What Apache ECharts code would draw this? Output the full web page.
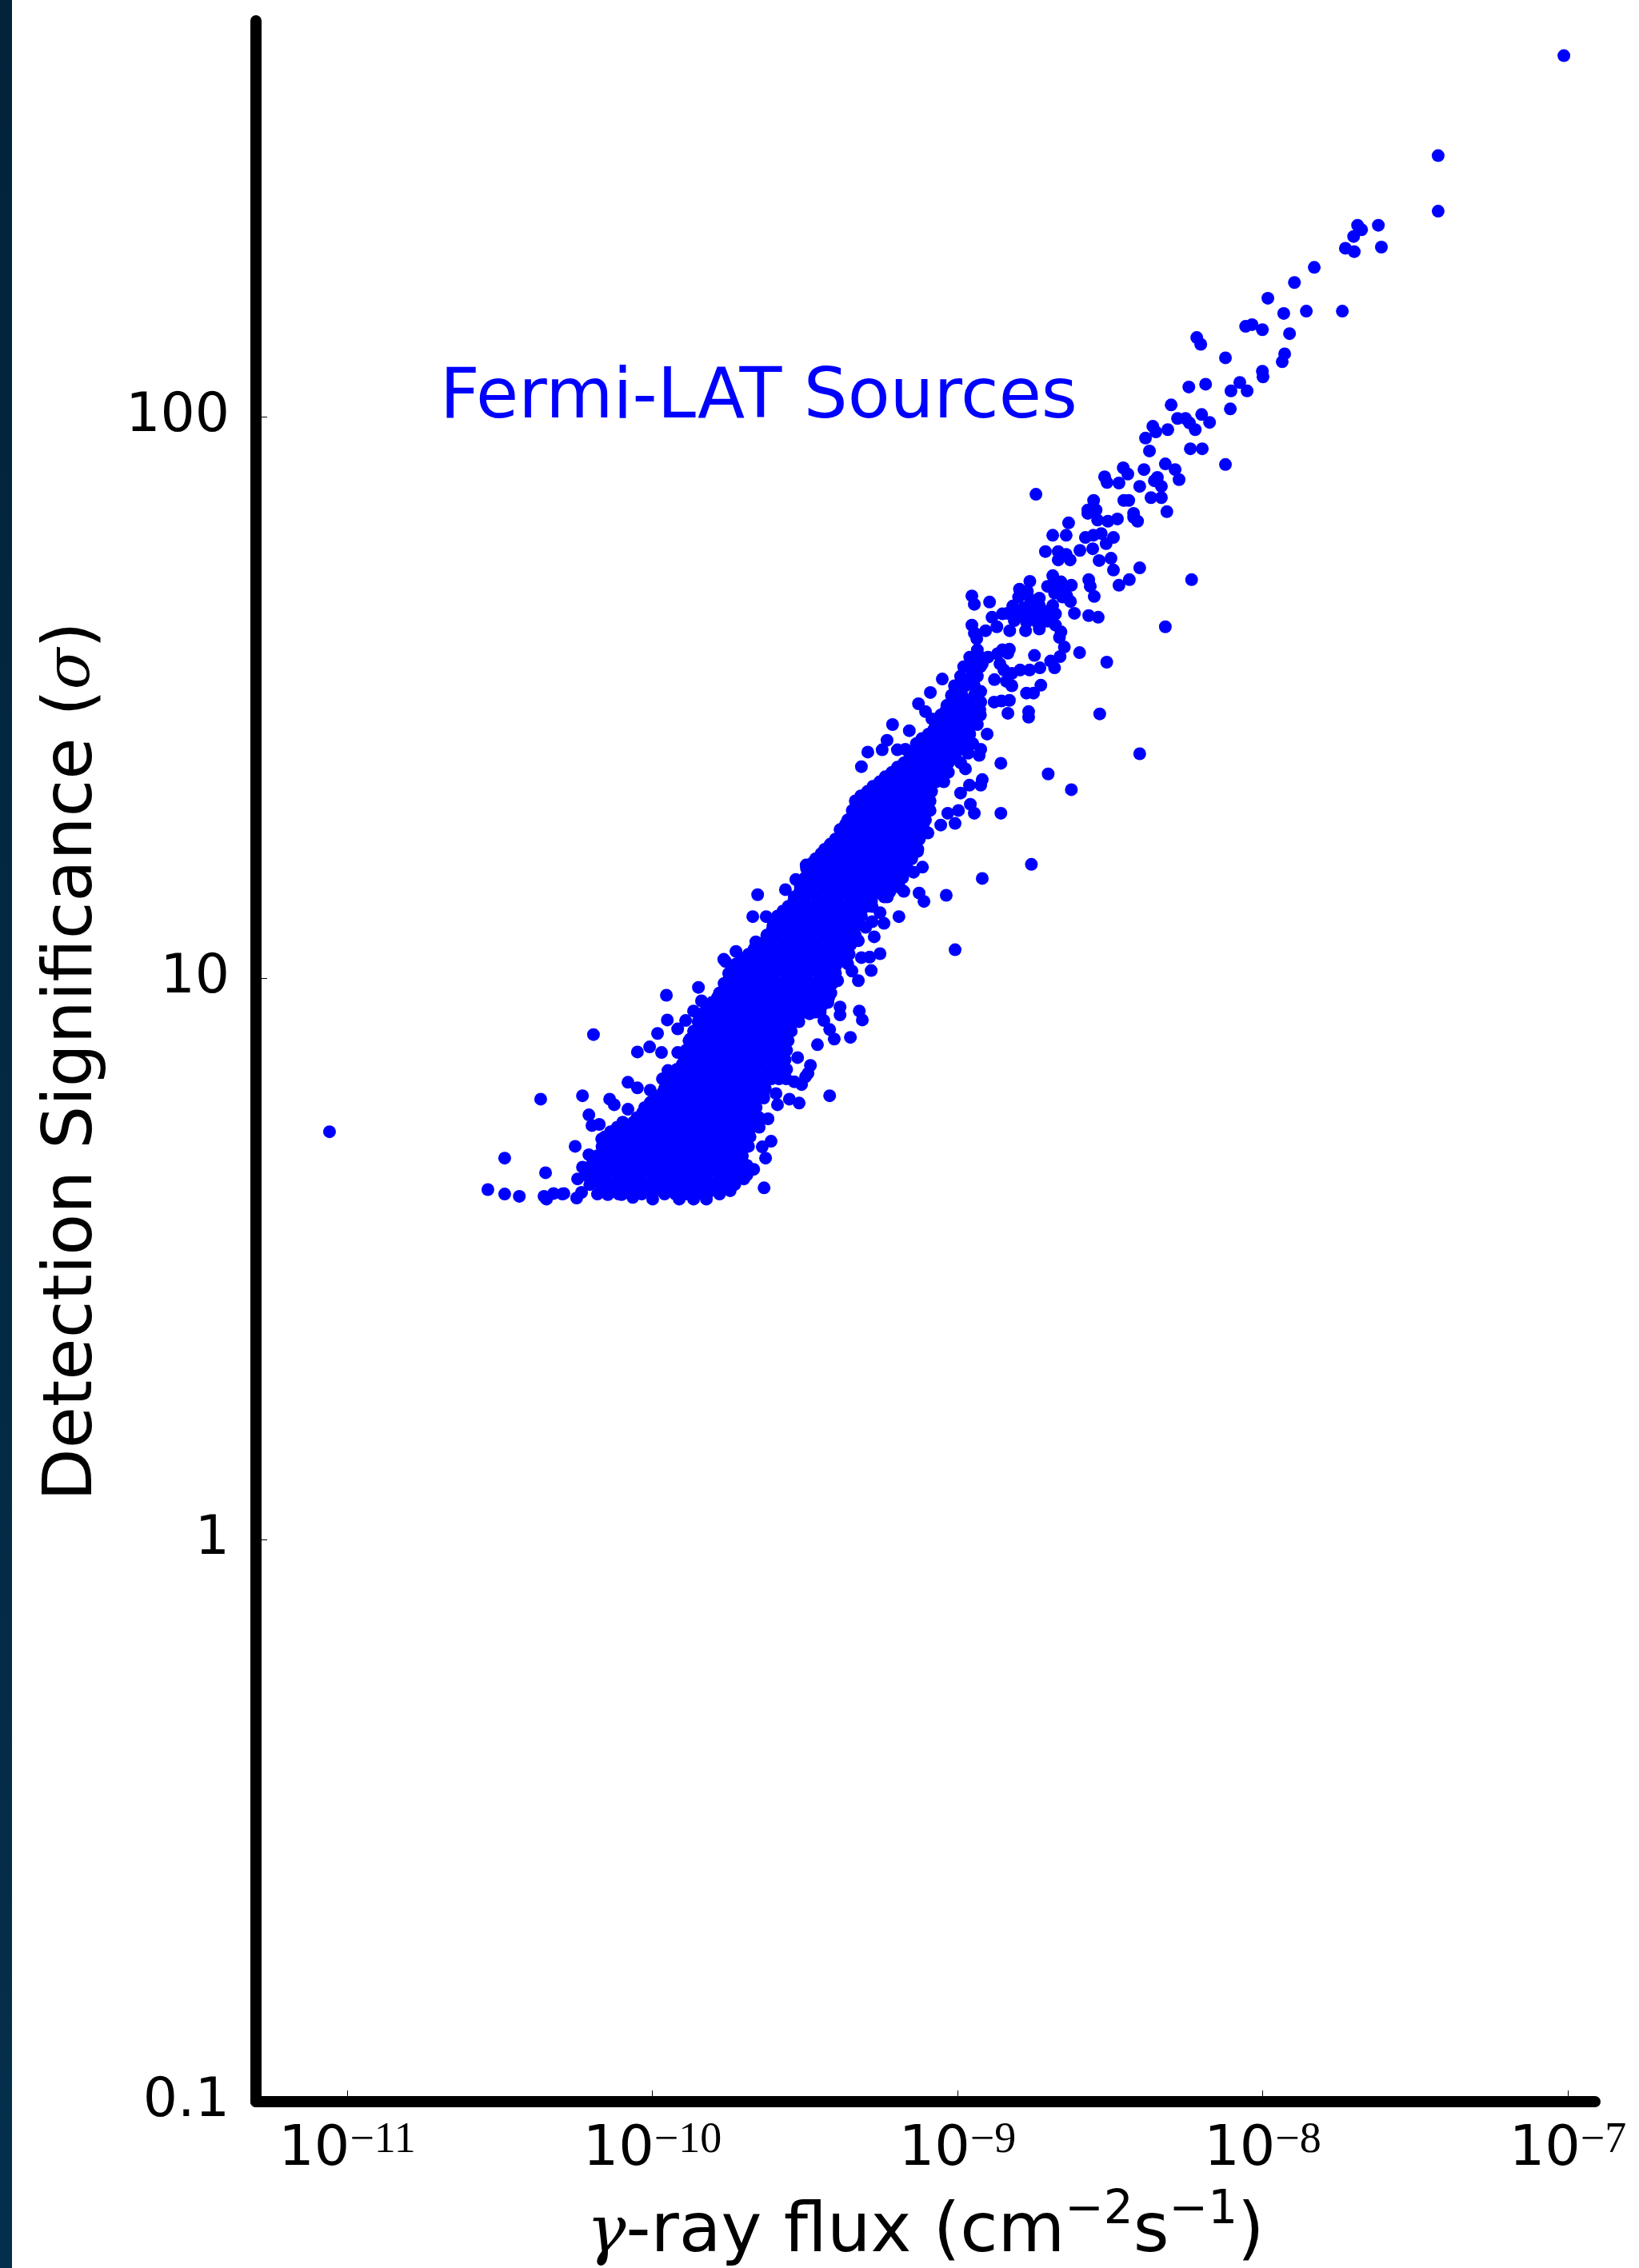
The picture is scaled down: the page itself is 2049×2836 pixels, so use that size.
<!DOCTYPE html>
<html><head><meta charset="utf-8">
<style>html,body{margin:0;padding:0;background:#fff}#c{width:2049px;height:2836px}</style>
<script src="https://cdn.jsdelivr.net/npm/echarts@6/dist/echarts.min.js"></script>
</head><body><div id="c"></div>
<script>
// Values, as [log10 flux, log10 significance].
const brightEnd=[[-7.013,2.643],[-7.425,2.465],[-7.425,2.366],[-7.689,2.341],[-7.676,2.333],[-7.702,2.321],[-7.729,2.3],[-7.7,2.294],[-7.621,2.341],[-7.611,2.302],[-7.831,2.266],[-7.896,2.239],[-7.983,2.211],[-7.931,2.184],[-7.857,2.188],[-7.739,2.188],[-8.056,2.161],[-8.035,2.164],[-8.001,2.155],[-7.912,2.148],[-8.216,2.141],[-8.203,2.129],[-8.122,2.105],[-7.928,2.112],[-7.936,2.098],[-8.001,2.081],[-7.999,2.071],[-8.242,2.053],[-8.187,2.058],[-8.075,2.061],[-8.104,2.046],[-8.051,2.046],[-8.3,2.021],[-8.106,2.014],[-8.279,1.997],[-8.253,1.997],[-8.24,1.989],[-8.221,1.977],[-8.2,2.004],[-8.174,1.99],[-8.36,1.983],[-8.311,1.977],[-8.35,1.973],[-8.384,1.962],[-8.371,1.939],[-8.237,1.943],[-8.198,1.943],[-8.122,1.915],[-8.319,1.916],[-8.287,1.906],[-8.274,1.888],[-8.389,1.906],[-8.457,1.909],[-8.442,1.898],[-8.518,1.893],[-8.51,1.883],[-8.471,1.882],[-8.345,1.892],[-8.355,1.886],[-8.332,1.876],[-8.403,1.876],[-8.455,1.851],[-8.439,1.851],[-8.366,1.856],[-8.332,1.856],[-8.554,1.851],[-8.573,1.834],[-8.546,1.834],[-8.314,1.831],[-8.423,1.828]];
const upperBranch=[[-8.743,1.862],[-8.573,1.828],[-8.541,1.816],[-8.476,1.818],[-8.507,1.814],[-8.423,1.821],[-8.41,1.814],[-8.636,1.811],[-8.688,1.789],[-8.644,1.789],[-8.581,1.785],[-8.555,1.789],[-8.529,1.792],[-8.489,1.785],[-8.513,1.774],[-8.599,1.762],[-8.557,1.765],[-8.712,1.76],[-8.67,1.76],[-8.644,1.755],[-8.67,1.745],[-8.631,1.745],[-8.536,1.744],[-8.497,1.748],[-8.489,1.727],[-8.403,1.731],[-8.437,1.71],[-8.471,1.7],[-8.233,1.71],[-8.688,1.717],[-8.57,1.71],[-8.552,1.68],[-8.565,1.698],[-8.763,1.707],[-8.797,1.693],[-8.705,1.698],[-8.661,1.706],[-8.627,1.7],[-8.682,1.686],[-8.656,1.679],[-8.63,1.671],[-8.688,1.664],[-8.953,1.681],[-8.945,1.666],[-8.895,1.67],[-8.617,1.65],[-8.57,1.646],[-8.539,1.643],[-8.319,1.626],[-8.8,1.679],[-8.761,1.674],[-8.732,1.664],[-8.819,1.663],[-8.837,1.65],[-8.8,1.646],[-8.766,1.646],[-8.74,1.646],[-8.853,1.649],[-8.887,1.643],[-8.871,1.626],[-8.829,1.619],[-8.777,1.619],[-8.732,1.622],[-8.705,1.636],[-8.679,1.629],[-8.661,1.617],[-8.666,1.607],[-8.953,1.629],[-8.945,1.615],[-8.908,1.619],[-8.937,1.605],[-8.65,1.59],[-8.6,1.58],[-8.511,1.563],[-8.935,1.585],[-8.945,1.57],[-8.83,1.586],[-8.853,1.585],[-8.869,1.578],[-8.9,1.572],[-8.835,1.579],[-8.919,1.56],[-8.861,1.56],[-8.848,1.549],[-8.748,1.575],[-8.664,1.573],[-8.695,1.565],[-8.682,1.553],[-8.73,1.553],[-8.764,1.549],[-8.795,1.549],[-8.822,1.543],[-8.879,1.532],[-8.84,1.529],[-8.822,1.521],[-8.727,1.522],[-8.751,1.508],[-8.774,1.508],[-9.05,1.533],[-9.089,1.509],[-8.924,1.511],[-8.924,1.492],[-8.83,1.495],[-8.856,1.494],[-8.88,1.492],[-8.835,1.472],[-8.767,1.475],[-8.767,1.465],[-8.534,1.471],[-8.403,1.4],[-8.903,1.435],[-8.858,1.383],[-8.703,1.364],[-8.627,1.336],[-8.783,1.66],[-8.751,1.66],[-8.814,1.637],[-8.774,1.634],[-8.737,1.633],[-8.709,1.653],[-8.732,1.677],[-8.771,1.689],[-8.679,1.649],[-8.661,1.691],[-8.642,1.681],[-8.682,1.703]];
const midBand=[[-9.128,1.489],[-9.105,1.475],[-9.084,1.462],[-9.213,1.452],[-9.158,1.441],[-9.231,1.424],[-9.247,1.407],[-9.294,1.403],[-9.315,1.377],[-9.197,1.407],[-9.171,1.408],[-8.924,1.408],[-8.929,1.397],[-8.974,1.373],[-8.919,1.354],[-8.924,1.344],[-8.961,1.344],[-8.99,1.33],[-8.858,1.294],[-8.758,1.203],[-8.919,1.178],[-9.037,1.148],[-9.008,1.051],[-8.958,1.31],[-8.945,1.294],[-8.997,1.299],[-9.032,1.294],[-9.008,1.276],[-9.055,1.273],[-9.097,1.259],[-9.115,1.198],[-9.144,1.189],[-9.131,1.226],[-9.176,1.155],[-9.126,1.152],[-9.11,1.137],[-9.192,1.11],[-9.241,1.098],[-9.254,1.117],[-9.28,1.101],[-9.301,1.091],[-9.273,1.074],[-9.325,1.067],[-9.254,1.044],[-9.288,1.038],[-9.315,1.037],[-9.283,1.014],[-9.346,1.013],[-9.325,0.996],[-9.393,0.996],[-9.385,0.949],[-9.385,0.935],[-9.322,0.942],[-9.312,0.926],[-9.351,0.895],[-9.419,0.909],[-9.404,0.892],[-9.459,0.882],[-9.438,0.925],[-9.485,0.937],[-9.482,0.845],[-9.498,0.825],[-9.511,0.811],[-9.561,0.821],[-9.524,0.859],[-9.419,0.791],[-9.519,0.778],[-9.551,0.785],[-9.59,0.775],[-9.595,0.795],[-9.621,0.75],[-9.611,0.71],[-9.64,0.7],[-9.634,0.627],[-9.629,0.68],[-9.668,0.66],[-9.7,0.643],[-9.745,0.622],[-9.49,0.831],[-9.535,0.816],[-9.569,0.825],[-9.655,1.149],[-9.671,1.11],[-9.564,1.158],[-9.53,1.176],[-9.496,1.202],[-9.627,1.11],[-9.661,1.065],[-9.64,1.06],[-9.726,1.048],[-9.766,1.034],[-9.752,0.996]];
const faintTail=[[-9.954,0.97],[-9.849,0.984],[-9.951,0.926],[-9.983,0.902],[-10.193,0.9],[-10.049,0.869],[-10.009,0.878],[-9.97,0.868],[-9.917,0.91],[-9.891,0.925],[-9.865,0.942],[-9.839,0.96],[-9.779,0.974],[-9.76,1.03],[-9.949,0.836],[-9.967,0.821],[-9.917,0.868],[-9.876,0.892],[-10.08,0.815],[-10.049,0.805],[-10.007,0.801],[-10.229,0.791],[-10.14,0.785],[-10.125,0.775],[-10.08,0.767],[-10.208,0.757],[-10.198,0.738],[-10.174,0.74],[-10.127,0.728],[-10.166,0.714],[-10.253,0.701],[-10.208,0.686],[-10.229,0.664],[-10.245,0.643],[-10.29,0.617],[-10.232,0.619],[-11.058,0.727],[-10.366,0.785],[-10.484,0.68],[-10.35,0.654],[-10.539,0.624],[-10.484,0.616],[-10.436,0.612],[-10.355,0.612],[-10.347,0.607],[-10.324,0.617],[-10.295,0.616],[-10.248,0.609],[-10.146,0.615],[-10.101,0.615],[-10.064,0.61],[-9.999,0.607],[-9.912,0.607],[-9.865,0.607],[-9.823,0.607]];
// Dense core, estimated row by row: [log10 significance, log10 flux, log10 flux, ...]
const coreRows=[
[.616,-10.18,-10.145,-10.11,-10.07,-10.035,-10,-9.96,-9.925,-9.89,-9.855,-9.82,-9.78],
[.633,-10.205,-10.17,-10.13,-10.095,-10.06,-10.02,-9.985,-9.945,-9.91,-9.875,-9.84,-9.8,-9.765,-9.73],
[.65,-10.22,-10.185,-10.15,-10.11,-10.075,-10.04,-10,-9.965,-9.93,-9.89,-9.855,-9.82,-9.78,-9.745,-9.71,-9.69],
[.667,-10.2,-10.165,-10.13,-10.09,-10.055,-10.02,-9.98,-9.945,-9.91,-9.87,-9.835,-9.8,-9.76,-9.725,-9.69],
[.684,-10.18,-10.145,-10.105,-10.07,-10.035,-9.995,-9.96,-9.925,-9.885,-9.85,-9.815,-9.775,-9.74,-9.705],
[.701,-10.165,-10.125,-10.09,-10.055,-10.015,-9.98,-9.945,-9.905,-9.87,-9.835,-9.795,-9.76,-9.725,-9.685],
[.718,-10.155,-10.12,-10.08,-10.045,-10.01,-9.97,-9.935,-9.9,-9.86,-9.825,-9.79,-9.75,-9.715,-9.68],
[.735,-10.115,-10.08,-10.04,-10.005,-9.97,-9.93,-9.895,-9.86,-9.82,-9.785,-9.75,-9.71,-9.675,-9.65],
[.752,-10.05,-10.015,-9.975,-9.94,-9.905,-9.865,-9.83,-9.795,-9.755,-9.72,-9.685,-9.65],
[.77,-10.025,-9.99,-9.955,-9.915,-9.88,-9.845,-9.805,-9.77,-9.735,-9.695,-9.66],
[.787,-9.985,-9.95,-9.91,-9.875,-9.84,-9.8,-9.765,-9.73,-9.69,-9.655,-9.635],
[.804,-9.96,-9.925,-9.885,-9.85,-9.815,-9.775,-9.74,-9.705,-9.665,-9.63],
[.821,-9.94,-9.905,-9.865,-9.83,-9.795,-9.755,-9.72,-9.685,-9.645,-9.61,-9.585],
[.838,-9.92,-9.885,-9.845,-9.81,-9.775,-9.735,-9.7,-9.665,-9.625,-9.59,-9.56],
[.855,-9.895,-9.86,-9.82,-9.785,-9.75,-9.71,-9.675,-9.64,-9.6,-9.565],
[.872,-9.89,-9.855,-9.815,-9.78,-9.745,-9.705,-9.67,-9.635,-9.595,-9.56],
[.889,-9.88,-9.84,-9.805,-9.77,-9.73,-9.695,-9.66,-9.62,-9.585,-9.555],
[.906,-9.865,-9.83,-9.79,-9.755,-9.72,-9.68,-9.645,-9.61,-9.57,-9.545],
[.923,-9.85,-9.815,-9.775,-9.74,-9.705,-9.665,-9.63,-9.595,-9.555,-9.52],
[.94,-9.83,-9.795,-9.755,-9.72,-9.685,-9.645,-9.61,-9.575,-9.535,-9.5,-9.465,-9.45],
[.957,-9.805,-9.77,-9.73,-9.695,-9.66,-9.62,-9.585,-9.55,-9.51,-9.475,-9.44,-9.425],
[.974,-9.78,-9.745,-9.705,-9.67,-9.635,-9.595,-9.56,-9.525,-9.485,-9.45,-9.415],
[.991,-9.765,-9.73,-9.69,-9.655,-9.62,-9.58,-9.545,-9.51,-9.47,-9.435,-9.41],
[1.009,-9.75,-9.715,-9.675,-9.64,-9.605,-9.565,-9.53,-9.495,-9.455,-9.42,-9.4],
[1.026,-9.725,-9.69,-9.65,-9.615,-9.58,-9.54,-9.505,-9.47,-9.43,-9.395,-9.36],
[1.043,-9.685,-9.65,-9.61,-9.575,-9.54,-9.5,-9.465,-9.43,-9.39,-9.355],
[1.06,-9.645,-9.61,-9.57,-9.535,-9.5,-9.46,-9.425,-9.39,-9.35],
[1.077,-9.625,-9.59,-9.55,-9.515,-9.48,-9.44,-9.405,-9.37,-9.335],
[1.094,-9.605,-9.57,-9.53,-9.495,-9.46,-9.42,-9.385,-9.35,-9.33],
[1.111,-9.59,-9.555,-9.515,-9.48,-9.445,-9.405,-9.37,-9.335,-9.315],
[1.128,-9.555,-9.52,-9.48,-9.445,-9.41,-9.37,-9.335,-9.3,-9.28],
[1.145,-9.535,-9.5,-9.46,-9.425,-9.39,-9.35,-9.315,-9.28,-9.24,-9.23],
[1.162,-9.515,-9.48,-9.44,-9.405,-9.37,-9.33,-9.295,-9.26,-9.22,-9.19],
[1.179,-9.5,-9.465,-9.425,-9.39,-9.355,-9.315,-9.28,-9.245,-9.205,-9.18],
[1.196,-9.495,-9.46,-9.42,-9.385,-9.35,-9.31,-9.275,-9.24,-9.2,-9.165],
[1.213,-9.465,-9.43,-9.39,-9.355,-9.32,-9.28,-9.245,-9.21,-9.17,-9.15],
[1.23,-9.435,-9.4,-9.36,-9.325,-9.29,-9.25,-9.215,-9.18,-9.14,-9.13],
[1.248,-9.4,-9.365,-9.325,-9.29,-9.255,-9.215,-9.18,-9.145,-9.125],
[1.265,-9.385,-9.35,-9.31,-9.275,-9.24,-9.2,-9.165,-9.13,-9.11],
[1.282,-9.36,-9.325,-9.285,-9.25,-9.215,-9.175,-9.14,-9.105],
[1.299,-9.345,-9.31,-9.27,-9.235,-9.2,-9.16,-9.125,-9.09],
[1.316,-9.335,-9.3,-9.26,-9.225,-9.19,-9.15,-9.115,-9.09],
[1.333,-9.295,-9.26,-9.22,-9.185,-9.15,-9.11,-9.085],
[1.35,-9.255,-9.22,-9.18,-9.145,-9.11,-9.07,-9.045],
[1.367,-9.215,-9.18,-9.14,-9.105,-9.07,-9.03],
[1.384,-9.175,-9.14,-9.1,-9.065,-9.03,-8.99],
[1.401,-9.15,-9.115,-9.075,-9.04,-9.005,-8.965],
[1.418,-9.135,-9.1,-9.06,-9.025,-8.99,-8.95],
[1.435,-9.095,-9.06,-9.02,-8.985,-8.96],
[1.452,-9.07,-9.035,-8.995,-8.96,-8.935],
[1.469,-9.055,-9.02,-8.98,-8.945,-8.925],
[1.486,-9.035,-9,-8.965,-8.93],
[1.504,-9.02,-8.985,-8.945],
[1.521,-9.01,-8.975,-8.945],
[1.538,-8.99,-8.955,-8.935],
[1.555,-8.98,-8.945,-8.925],
[1.572,-8.96,-8.925]];
// Second layer of the same solid core, between those rows.
const coreInfillRows=[
[.625,-10.162,-10.127,-10.092,-10.052,-10.017,-9.982,-9.942,-9.907,-9.872,-9.837,-9.802],
[.642,-10.187,-10.152,-10.112,-10.077,-10.042,-10.002,-9.967,-9.927,-9.892,-9.857,-9.822,-9.782,-9.747],
[.659,-10.202,-10.167,-10.132,-10.092,-10.057,-10.022,-9.982,-9.947,-9.912,-9.872,-9.837,-9.802,-9.762,-9.727,-9.692],
[.676,-10.182,-10.147,-10.112,-10.072,-10.037,-10.002,-9.962,-9.927,-9.892,-9.852,-9.817,-9.782,-9.742,-9.707],
[.693,-10.162,-10.127,-10.087,-10.052,-10.017,-9.977,-9.942,-9.907,-9.867,-9.832,-9.797,-9.757,-9.722],
[.71,-10.147,-10.107,-10.072,-10.037,-9.997,-9.962,-9.927,-9.887,-9.852,-9.817,-9.777,-9.742,-9.707],
[.727,-10.137,-10.102,-10.062,-10.027,-9.992,-9.952,-9.917,-9.882,-9.842,-9.807,-9.772,-9.732,-9.697],
[.744,-10.097,-10.062,-10.022,-9.987,-9.952,-9.912,-9.877,-9.842,-9.802,-9.767,-9.732,-9.692,-9.657],
[.761,-10.032,-9.997,-9.957,-9.922,-9.887,-9.847,-9.812,-9.777,-9.737,-9.702,-9.667],
[.779,-10.007,-9.972,-9.937,-9.897,-9.862,-9.827,-9.787,-9.752,-9.717,-9.677],
[.796,-9.967,-9.932,-9.892,-9.857,-9.822,-9.782,-9.747,-9.712,-9.672,-9.637],
[.813,-9.942,-9.907,-9.867,-9.832,-9.797,-9.757,-9.722,-9.687,-9.647],
[.83,-9.922,-9.887,-9.847,-9.812,-9.777,-9.737,-9.702,-9.667,-9.627,-9.592],
[.847,-9.902,-9.867,-9.827,-9.792,-9.757,-9.717,-9.682,-9.647,-9.607,-9.572],
[.864,-9.877,-9.842,-9.802,-9.767,-9.732,-9.692,-9.657,-9.622,-9.582],
[.881,-9.872,-9.837,-9.797,-9.762,-9.727,-9.687,-9.652,-9.617,-9.577],
[.898,-9.862,-9.822,-9.787,-9.752,-9.712,-9.677,-9.642,-9.602,-9.567],
[.915,-9.847,-9.812,-9.772,-9.737,-9.702,-9.662,-9.627,-9.592,-9.552],
[.932,-9.832,-9.797,-9.757,-9.722,-9.687,-9.647,-9.612,-9.577,-9.537],
[.949,-9.812,-9.777,-9.737,-9.702,-9.667,-9.627,-9.592,-9.557,-9.517,-9.482,-9.447],
[.966,-9.787,-9.752,-9.712,-9.677,-9.642,-9.602,-9.567,-9.532,-9.492,-9.457,-9.422],
[.983,-9.762,-9.727,-9.687,-9.652,-9.617,-9.577,-9.542,-9.507,-9.467,-9.432],
[1,-9.747,-9.712,-9.672,-9.637,-9.602,-9.562,-9.527,-9.492,-9.452,-9.417],
[1.018,-9.732,-9.697,-9.657,-9.622,-9.587,-9.547,-9.512,-9.477,-9.437,-9.402],
[1.035,-9.707,-9.672,-9.632,-9.597,-9.562,-9.522,-9.487,-9.452,-9.412,-9.377],
[1.052,-9.667,-9.632,-9.592,-9.557,-9.522,-9.482,-9.447,-9.412,-9.372],
[1.069,-9.627,-9.592,-9.552,-9.517,-9.482,-9.442,-9.407,-9.372],
[1.086,-9.607,-9.572,-9.532,-9.497,-9.462,-9.422,-9.387,-9.352],
[1.103,-9.587,-9.552,-9.512,-9.477,-9.442,-9.402,-9.367,-9.332],
[1.12,-9.572,-9.537,-9.497,-9.462,-9.427,-9.387,-9.352,-9.317],
[1.137,-9.537,-9.502,-9.462,-9.427,-9.392,-9.352,-9.317,-9.282],
[1.154,-9.517,-9.482,-9.442,-9.407,-9.372,-9.332,-9.297,-9.262,-9.222],
[1.171,-9.497,-9.462,-9.422,-9.387,-9.352,-9.312,-9.277,-9.242,-9.202],
[1.188,-9.482,-9.447,-9.407,-9.372,-9.337,-9.297,-9.262,-9.227,-9.187],
[1.205,-9.477,-9.442,-9.402,-9.367,-9.332,-9.292,-9.257,-9.222,-9.182],
[1.222,-9.447,-9.412,-9.372,-9.337,-9.302,-9.262,-9.227,-9.192,-9.152],
[1.239,-9.417,-9.382,-9.342,-9.307,-9.272,-9.232,-9.197,-9.162],
[1.257,-9.382,-9.347,-9.307,-9.272,-9.237,-9.197,-9.162,-9.127],
[1.274,-9.367,-9.332,-9.292,-9.257,-9.222,-9.182,-9.147,-9.112],
[1.291,-9.342,-9.307,-9.267,-9.232,-9.197,-9.157,-9.122],
[1.308,-9.327,-9.292,-9.252,-9.217,-9.182,-9.142,-9.107],
[1.325,-9.317,-9.282,-9.242,-9.207,-9.172,-9.132,-9.097],
[1.342,-9.277,-9.242,-9.202,-9.167,-9.132,-9.092],
[1.359,-9.237,-9.202,-9.162,-9.127,-9.092,-9.052],
[1.376,-9.197,-9.162,-9.122,-9.087,-9.052],
[1.393,-9.157,-9.122,-9.082,-9.047,-9.012],
[1.41,-9.132,-9.097,-9.057,-9.022,-8.987],
[1.427,-9.117,-9.082,-9.042,-9.007,-8.972],
[1.444,-9.077,-9.042,-9.002,-8.967],
[1.461,-9.052,-9.017,-8.977,-8.942],
[1.478,-9.037,-9.002,-8.962,-8.927],
[1.495,-9.017,-8.982,-8.947]];
const xTickValues=[1e-11,1e-10,1e-9,1e-8,1e-7];
const yTickValues=[0.1,1,10,100];
const seriesName='Fermi-LAT Sources';

const corePoints=[];
coreRows.concat(coreInfillRows).forEach(r=>r.slice(1).forEach(x=>corePoints.push([x,r[0]])));
const points=[...corePoints,...faintTail,...midBand,...upperBranch,...brightEnd].map(p=>[Math.pow(10,p[0]),Math.pow(10,p[1])]);

const chart=echarts.init(document.getElementById('c'),null,{renderer:'canvas'});
const font='"DejaVu Sans"';
chart.setOption({
 animation:false,backgroundColor:'#fff',
 graphic:[
  {type:'rect',left:0,top:0,z:0,shape:{width:15,height:2836},style:{fill:{type:'linear',x:0,y:0,x2:0,y2:1,colorStops:[{offset:0,color:'#02233a'},{offset:1,color:'#042f4c'}]}}},
  {type:'text',left:550,top:456,z:10,style:{text:seriesName,fill:'#0000ff',font:'86.5px "DejaVu Sans"'}}
 ],
 grid:{left:320,right:55,top:26,bottom:208,containLabel:false,outerBoundsMode:'none'},
 xAxis:{type:'log',logBase:10,min:Math.pow(10,-11.299),max:Math.pow(10,-6.911),
  splitLine:{show:false},minorTick:{show:false},
  axisLine:{show:true,onZero:false,lineStyle:{color:'#000',width:14}},
  axisTick:{show:true,inside:true,length:14,customValues:xTickValues,lineStyle:{color:'#000',width:1}},
  axisLabel:{show:true,margin:22,customValues:xTickValues,hideOverlap:false,showMinLabel:true,showMaxLabel:true,
   formatter:v=>'{b|10}{s|\u2212'+Math.round(-Math.log10(v))+'}',
   rich:{b:{fontFamily:font,fontSize:70,color:'#000',lineHeight:74,verticalAlign:'bottom'},s:{fontFamily:'"Liberation Serif"',fontSize:54,color:'#000',lineHeight:74,verticalAlign:'top'}}},
  name:'{g|\u03b3}{t|-ray flux (cm}{s|\u22122}{t|s}{s|\u22121}{t|)}',nameLocation:'middle',nameGap:108,
  nameTextStyle:{rich:{t:{fontFamily:font,fontSize:86,color:'#000',lineHeight:100,verticalAlign:'bottom'},g:{fontFamily:'"DejaVu Serif"',fontStyle:'italic',fontSize:82,color:'#000',lineHeight:100,verticalAlign:'bottom'},s:{fontFamily:font,fontSize:58,color:'#000',lineHeight:100,verticalAlign:'top'}}}},
 yAxis:{type:'log',logBase:10,min:0.1,max:Math.pow(10,2.705),
  splitLine:{show:false},minorTick:{show:false},
  axisLine:{show:true,onZero:false,lineStyle:{color:'#000',width:14}},
  axisTick:{show:true,inside:true,length:14,customValues:yTickValues,lineStyle:{color:'#000',width:1}},
  axisLabel:{show:true,margin:33,customValues:yTickValues,showMinLabel:true,hideOverlap:false,fontFamily:font,fontSize:68,color:'#000',
   formatter:v=>String(v)},
  name:'{t|Detection Significance (}{g|\u03c3}{t|)}',nameLocation:'middle',nameGap:186,nameRotate:90,
  nameTextStyle:{rich:{t:{fontFamily:font,fontSize:85,color:'#000'},g:{fontFamily:'"DejaVu Serif"',fontStyle:'italic',fontSize:76,color:'#000'}}}},
 series:[{name:seriesName,type:'scatter',data:points,symbol:'circle',symbolSize:16,itemStyle:{color:'#0000ff',opacity:1},large:false,clip:false,z:2}]
});
</script></body></html>
